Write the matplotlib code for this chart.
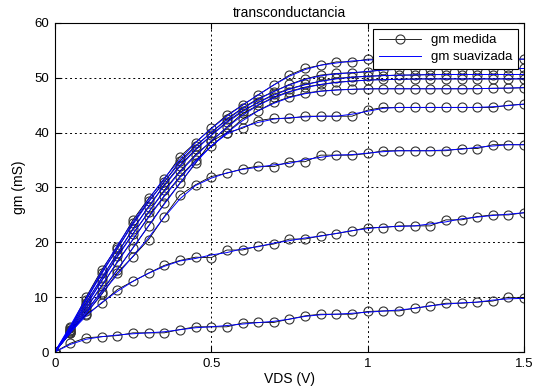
import numpy as np
import matplotlib
matplotlib.use('Agg')
import matplotlib.pyplot as plt

plt.rcParams['font.family'] = ['Liberation Sans', 'DejaVu Sans']

# VDS sweep (V)
vds = np.arange(0, 1.501, 0.05)

gm1 = [0, 4.5, 10.0, 15.0, 19.2, 24.1, 28.0, 31.5, 35.6, 38.2, 40.8, 43.2, 45.0, 46.9, 48.7, 50.5,
       51.7, 52.3, 52.9, 52.9, 53.4, 53.4, 53.4, 53.4, 53.4, 53.4, 53.4, 53.4, 53.4, 53.4, 53.4]
gm2 = [0, 4.3, 9.5, 14.5, 18.8, 23.5, 27.5, 31.0, 34.8, 37.6, 40.0, 42.5, 44.5, 46.2, 47.5, 48.8,
       49.8, 50.5, 50.8, 50.9, 51.1, 51.5, 51.6, 51.6, 51.6, 51.6, 51.6, 51.6, 51.6, 51.7, 51.7]
gm3 = [0, 4.0, 9.0, 13.5, 18.0, 22.5, 26.5, 30.5, 34.0, 37.0, 39.5, 42.0, 44.0, 45.5, 47.0, 48.0,
       48.8, 49.4, 49.9, 50.1, 50.3, 50.4, 50.5, 50.5, 50.6, 50.6, 50.6, 50.6, 50.6, 50.6, 50.6]
gm4 = [0, 3.8, 8.5, 13.0, 17.5, 21.6, 25.5, 29.5, 33.0, 36.0, 38.4, 41.0, 43.5, 45.0, 46.5, 47.5,
       48.3, 48.8, 49.2, 49.4, 49.6, 49.7, 49.7, 49.8, 49.8, 49.8, 49.8, 49.8, 49.8, 49.8, 49.8]
gm5 = [0, 3.6, 8.0, 12.0, 16.5, 20.5, 24.7, 28.5, 32.0, 35.0, 37.5, 40.0, 42.5, 44.0, 45.5, 46.5,
       47.2, 47.6, 47.8, 47.9, 48.0, 48.0, 48.0, 48.0, 48.0, 48.0, 48.0, 48.0, 48.1, 48.1, 48.2]
gm6 = [0, 3.5, 7.5, 11.0, 15.0, 19.0, 23.0, 27.1, 30.8, 34.4, 38.4, 40.0, 40.8, 42.2, 42.6, 42.6,
       43.0, 43.0, 43.0, 43.0, 44.1, 44.6, 44.6, 44.6, 44.6, 44.6, 44.6, 44.6, 44.6, 45.0, 45.2]
gm7 = [0, 3.5, 7.0, 10.5, 14.5, 17.4, 20.5, 24.7, 28.6, 30.5, 32.0, 32.6, 33.4, 33.9, 33.8, 34.7,
       34.7, 35.9, 35.9, 35.9, 36.2, 36.7, 36.7, 36.7, 36.7, 36.7, 37.1, 37.1, 37.8, 37.8, 37.8]
gm8 = [0, 4.0, 6.8, 8.9, 11.4, 12.9, 14.4, 15.8, 16.7, 17.3, 17.2, 18.6, 18.6, 19.3, 19.7, 20.6,
       20.6, 21.2, 21.6, 22.1, 22.7, 22.7, 23.0, 23.0, 23.0, 24.1, 24.1, 24.7, 25.0, 25.0, 25.4]
gm9 = [0, 1.6, 2.6, 2.8, 3.0, 3.5, 3.5, 3.5, 4.1, 4.6, 4.6, 4.6, 5.3, 5.4, 5.4, 6.0,
       6.6, 6.9, 6.9, 6.9, 7.4, 7.5, 7.5, 8.0, 8.4, 8.9, 8.9, 9.1, 9.3, 10.0, 9.8]

curves = [gm1, gm2, gm3, gm4, gm5, gm6, gm7, gm8, gm9]


def suavizar(y):
    # 3-point moving average, ends kept
    y = np.asarray(y, dtype=float)
    s = y.copy()
    s[1:-1] = (y[:-2] + y[1:-1] + y[2:]) / 3.0
    return s


fig = plt.figure(figsize=(5.37, 3.89), dpi=100)
ax = fig.add_axes([0.102, 0.095, 0.874, 0.846])

for i, gm in enumerate(curves):
    ax.plot(vds, gm, 'k-', lw=0.6, marker='o', ms=6.5, mfc='none', mec='#333333', mew=0.8,
            label='gm medida' if i == 0 else None)
for i, gm in enumerate(curves):
    ax.plot(vds, suavizar(gm), '-', color='#0000ff', lw=0.7,
            label='gm suavizada' if i == 0 else None)

ax.set_xlim(0, 1.5)
ax.set_ylim(0, 60)
ax.set_xticks([0, 0.5, 1, 1.5])
ax.set_xticklabels(['0', '0.5', '1', '1.5'])
ax.set_yticks(range(0, 61, 10))
ax.tick_params(direction='in', length=4, labelsize=9.5, top=True, right=True, pad=4)
ax.grid(True, color='black', linestyle=(0, (2, 3)), linewidth=0.7)
for s in ax.spines.values():
    s.set_linewidth(0.8)

ax.set_title('transconductancia', fontsize=10, pad=4)
ax.set_xlabel('VDS (V)', fontsize=10, labelpad=2)
ax.set_ylabel('gm (mS)', fontsize=10, labelpad=6)

leg = ax.legend(loc='upper right', fontsize=9.5, fancybox=False, framealpha=1,
                edgecolor='black', borderpad=0.4, handlelength=3.2, labelspacing=0.35,
                bbox_to_anchor=(0.987, 0.982), borderaxespad=0)
leg.get_frame().set_linewidth(0.8)

fig.savefig('out.png', dpi=100)
